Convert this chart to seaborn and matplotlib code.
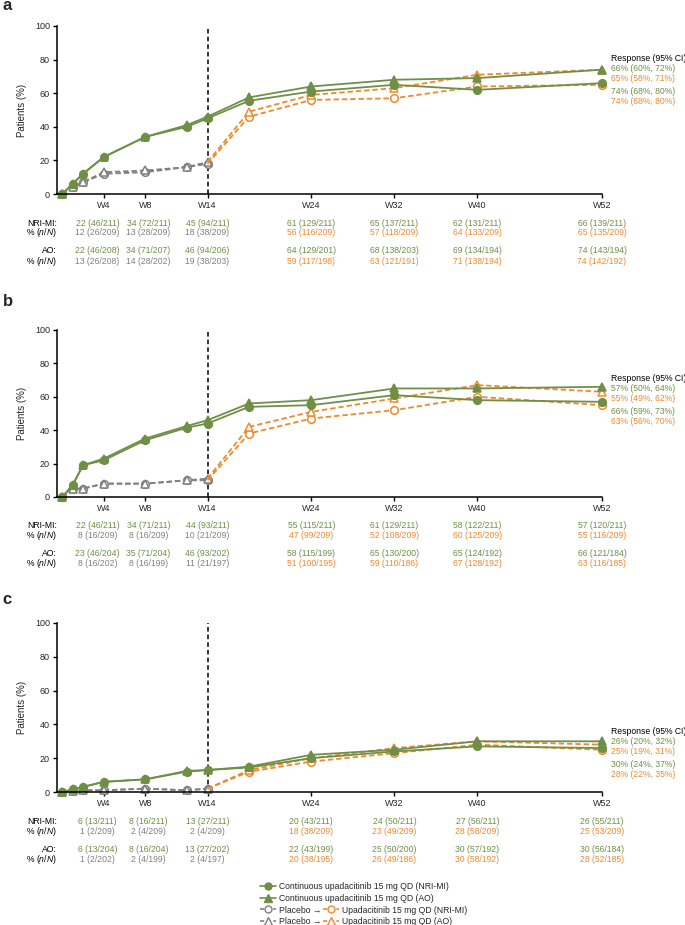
import matplotlib
matplotlib.use('Agg')
import matplotlib.pyplot as plt
import matplotlib.transforms as mtransforms
from matplotlib.lines import Line2D
import seaborn as sns

# visit weeks
weeks_cont = [0, 1, 2, 4, 8, 12, 14, 18, 24, 32, 40, 52]
weeks_pbo = [0, 1, 2, 4, 8, 12, 14]
weeks_switch = [14, 18, 24, 32, 40, 52]
tick_weeks = [4, 8, 14, 24, 32, 40, 52]
tick_labels = ['W4', 'W8', 'W14', 'W24', 'W32', 'W40', 'W52']

# panel a
a_cont_nri = [0, 6, 12, 22, 34, 40, 45, 55.5, 61, 65, 62, 66]
a_cont_ao = [0, 6, 12, 22, 34, 41, 46, 57.5, 64, 68, 69, 74]
a_pbo_nri = [0, 4, 7, 12, 13, 16, 18]
a_pbo_ao = [0, 4, 7, 13, 14, 16, 19]
a_sw_nri = [18, 46, 56, 57, 64, 65]
a_sw_ao = [19, 49, 59, 63, 71, 74]
a_ci = ['66% (60%, 72%)', '65% (58%, 71%)', '74% (68%, 80%)', '74% (68%, 80%)']
a_tab_nri_cont = ['22 (46/211)', '34 (72/211)', '45 (94/211)', '61 (129/211)', '65 (137/211)', '62 (131/211)', '66 (139/211)']
a_tab_nri_pbo = ['12 (26/209)', '13 (28/209)', '18 (38/209)', '56 (116/209)', '57 (118/209)', '64 (133/209)', '65 (135/209)']
a_tab_ao_cont = ['22 (46/208)', '34 (71/207)', '46 (94/206)', '64 (129/201)', '68 (138/203)', '69 (134/194)', '74 (143/194)']
a_tab_ao_pbo = ['13 (26/208)', '14 (28/202)', '19 (38/203)', '59 (117/198)', '63 (121/191)', '71 (138/194)', '74 (142/192)']

# panel b
b_cont_nri = [0, 7, 19, 22, 34, 41.5, 44, 54, 55, 61, 58, 57]
b_cont_ao = [0, 7, 19, 23, 35, 42.5, 46, 56, 58, 65, 65, 66]
b_pbo_nri = [0, 5, 5, 8, 8, 10, 10]
b_pbo_ao = [0, 5, 5, 8, 8, 10, 11]
b_sw_nri = [10, 38, 47, 52, 60, 55]
b_sw_ao = [11, 42, 51, 59, 67, 63]
b_ci = ['57% (50%, 64%)', '55% (49%, 62%)', '66% (59%, 73%)', '63% (56%, 70%)']
b_tab_nri_cont = ['22 (46/211)', '34 (71/211)', '44 (93/211)', '55 (115/211)', '61 (129/211)', '58 (122/211)', '57 (120/211)']
b_tab_nri_pbo = ['8 (16/209)', '8 (16/209)', '10 (21/209)', '47 (99/209)', '52 (108/209)', '60 (125/209)', '55 (116/209)']
b_tab_ao_cont = ['23 (46/204)', '35 (71/204)', '46 (93/202)', '58 (115/199)', '65 (130/200)', '65 (124/192)', '66 (121/184)']
b_tab_ao_pbo = ['8 (16/202)', '8 (16/199)', '11 (21/197)', '51 (100/195)', '59 (110/186)', '67 (128/192)', '63 (116/185)']

# panel c
c_cont_nri = [0, 1.5, 3, 6, 7.5, 12, 13, 14.5, 20, 24, 27, 26]
c_cont_ao = [0, 1.5, 3, 6, 7.5, 12.5, 13, 15, 22, 25, 30, 30]
c_pbo_nri = [0, 0.5, 1, 1, 2, 1, 2]
c_pbo_ao = [0, 0.5, 1, 1, 2, 1, 2]
c_sw_nri = [2, 12, 18, 23, 28, 25]
c_sw_ao = [2, 13, 20, 26, 30, 28]
c_ci = ['26% (20%, 32%)', '25% (19%, 31%)', '30% (24%, 37%)', '28% (22%, 35%)']
c_tab_nri_cont = ['6 (13/211)', '8 (16/211)', '13 (27/211)', '20 (43/211)', '24 (50/211)', '27 (56/211)', '26 (55/211)']
c_tab_nri_pbo = ['1 (2/209)', '2 (4/209)', '2 (4/209)', '18 (38/209)', '23 (49/209)', '28 (58/209)', '25 (53/209)']
c_tab_ao_cont = ['6 (13/204)', '8 (16/204)', '13 (27/202)', '22 (43/199)', '25 (50/200)', '30 (57/192)', '30 (56/184)']
c_tab_ao_pbo = ['1 (2/202)', '2 (4/199)', '2 (4/197)', '20 (38/195)', '26 (49/186)', '30 (58/192)', '28 (52/185)']

GREEN = '#6F8F47'
ORANGE = '#EE8A2E'
GRAY = '#808080'

sns.set_style('ticks')
plt.rcParams['font.family'] = ['Liberation Sans', 'DejaVu Sans']
plt.rcParams['mathtext.fontset'] = 'custom'
plt.rcParams['mathtext.rm'] = 'Liberation Sans'
plt.rcParams['mathtext.it'] = 'Liberation Sans:italic'

FS = 6.2


def series(ax, x, y, color, marker, dashed, filled, skip_first=False):
    kw = dict(color=color, marker=marker, markersize=5.5 if marker == 'o' else 6,
              markeredgecolor=color, markeredgewidth=1.1,
              markerfacecolor=color if filled else 'white',
              linewidth=1.3, errorbar=None, clip_on=False, legend=False, ax=ax)
    if dashed:
        kw['linestyle'] = (0, (3, 1.6))
    if skip_first:
        kw['markevery'] = list(range(1, len(x)))
    sns.lineplot(x=x, y=y, **kw)


def panel(ax, letter, cont_nri, cont_ao, pbo_nri, pbo_ao, sw_nri, sw_ao, ci, ci_y, tab):
    ax.axvline(14, color='black', linestyle=(0, (3, 2)), linewidth=1.1, zorder=1)
    series(ax, weeks_pbo, pbo_nri, GRAY, 'o', True, False)
    series(ax, weeks_pbo, pbo_ao, GRAY, '^', True, False)
    series(ax, weeks_switch, sw_nri, ORANGE, 'o', True, False, skip_first=True)
    series(ax, weeks_switch, sw_ao, ORANGE, '^', True, False, skip_first=True)
    series(ax, weeks_cont, cont_nri, GREEN, 'o', False, True)
    series(ax, weeks_cont, cont_ao, GREEN, '^', False, True)

    ax.set_xlim(-0.5, 52)
    ax.set_ylim(0, 100)
    ax.set_yticks(range(0, 101, 20))
    ax.set_xticks(tick_weeks)
    ax.set_xticklabels(tick_labels)
    ax.set_xlabel('')
    ax.set_ylabel('Patients (%)', fontsize=7)
    ax.yaxis.set_label_coords(-0.055, 0.5)
    sns.despine(ax=ax)
    for s in ['left', 'bottom']:
        ax.spines[s].set_linewidth(1.1)
        ax.spines[s].set_color('black')
    ax.tick_params(labelsize=6.5, length=3, width=1, color='black', pad=2)

    # response (95% CI) block at the right
    px = 100 / 168.0
    offs = [0, 10, 20, 33, 43]
    ax.text(52.9, ci_y, 'Response (95% CI)', fontsize=FS, color='black', va='center', ha='left', clip_on=False)
    for txt, off, col in zip(ci, offs[1:], [GREEN, ORANGE, GREEN, ORANGE]):
        ax.text(52.9, ci_y - off * px, txt, fontsize=FS, color=col, va='center', ha='left', clip_on=False)

    # table under the axis
    trans = mtransforms.blended_transform_factory(ax.transData, ax.transAxes)
    row_y = [-0.173, -0.232, -0.339, -0.399]
    row_lab = ['NRI-MI:', r'% ($\mathit{n/N}$)', 'AO:', r'% ($\mathit{n/N}$)']
    col_x = [w + d for w, d in zip(tick_weeks, [-0.6, 0.3, 0, 0, 0, 0, 0])]
    pbo_cols = [GRAY] * 3 + [ORANGE] * 4
    for r, (yy, lab, vals) in enumerate(zip(row_y, row_lab, tab)):
        ax.text(0.0, yy, lab, transform=ax.transAxes, fontsize=FS, ha='right', va='center', color='black')
        cols = [GREEN] * 7 if r % 2 == 0 else pbo_cols
        for xx, v, c in zip(col_x, vals, cols):
            ax.text(xx, yy, v, transform=trans, fontsize=FS, ha='center', va='center', color=c)


fig = plt.figure(figsize=(6.85, 9.25), dpi=100)
left = 57 / 685
width = 545 / 685
tops = [26, 330, 623]
bottoms = [194, 497, 792]
axes = [fig.add_axes([left, 1 - b / 925, width, (b - t) / 925]) for t, b in zip(tops, bottoms)]

panel(axes[0], 'a', a_cont_nri, a_cont_ao, a_pbo_nri, a_pbo_ao, a_sw_nri, a_sw_ao, a_ci, 80.4,
      [a_tab_nri_cont, a_tab_nri_pbo, a_tab_ao_cont, a_tab_ao_pbo])
panel(axes[1], 'b', b_cont_nri, b_cont_ao, b_pbo_nri, b_pbo_ao, b_sw_nri, b_sw_ao, b_ci, 71,
      [b_tab_nri_cont, b_tab_nri_pbo, b_tab_ao_cont, b_tab_ao_pbo])
panel(axes[2], 'c', c_cont_nri, c_cont_ao, c_pbo_nri, c_pbo_ao, c_sw_nri, c_sw_ao, c_ci, 35.7,
      [c_tab_nri_cont, c_tab_nri_pbo, c_tab_ao_cont, c_tab_ao_pbo])

for letter, yy in zip(['a', 'b', 'c'], [6, 302, 600]):
    fig.text(0.004, 1 - yy / 925, letter, fontsize=12, fontweight='bold', va='center', ha='left')

# legend
def h(color, marker, dashed, filled):
    return Line2D([], [], color=color, marker=marker, markersize=5 if marker == 'o' else 5.5,
                  markeredgecolor=color, markeredgewidth=1.0,
                  markerfacecolor=color if filled else 'white', linewidth=1.2,
                  linestyle=(0, (2.5, 1.5)) if dashed else '-')

leg_kw = dict(loc='upper left', bbox_transform=fig.transFigure, frameon=False, fontsize=FS,
              handlelength=1.8, handletextpad=0.4, labelspacing=0.32, borderpad=0, borderaxespad=0)
leg1 = fig.legend(handles=[h(GREEN, 'o', False, True), h(GREEN, '^', False, True),
                           h(GRAY, 'o', True, False), h(GRAY, '^', True, False)],
                  labels=['Continuous upadacitinib 15 mg QD (NRI-MI)', 'Continuous upadacitinib 15 mg QD (AO)',
                          'Placebo \u2192', 'Placebo \u2192'],
                  bbox_to_anchor=(260 / 685, 1 - 882 / 925), **leg_kw)
blank = Line2D([], [], linestyle='none')
fig.legend(handles=[blank, blank, h(ORANGE, 'o', True, False), h(ORANGE, '^', True, False)],
           labels=[' ', ' ', 'Upadacitinib 15 mg QD (NRI-MI)', 'Upadacitinib 15 mg QD (AO)'],
           bbox_to_anchor=(323 / 685, 1 - 882 / 925), **leg_kw)

fig.savefig('out.png', dpi=100)
